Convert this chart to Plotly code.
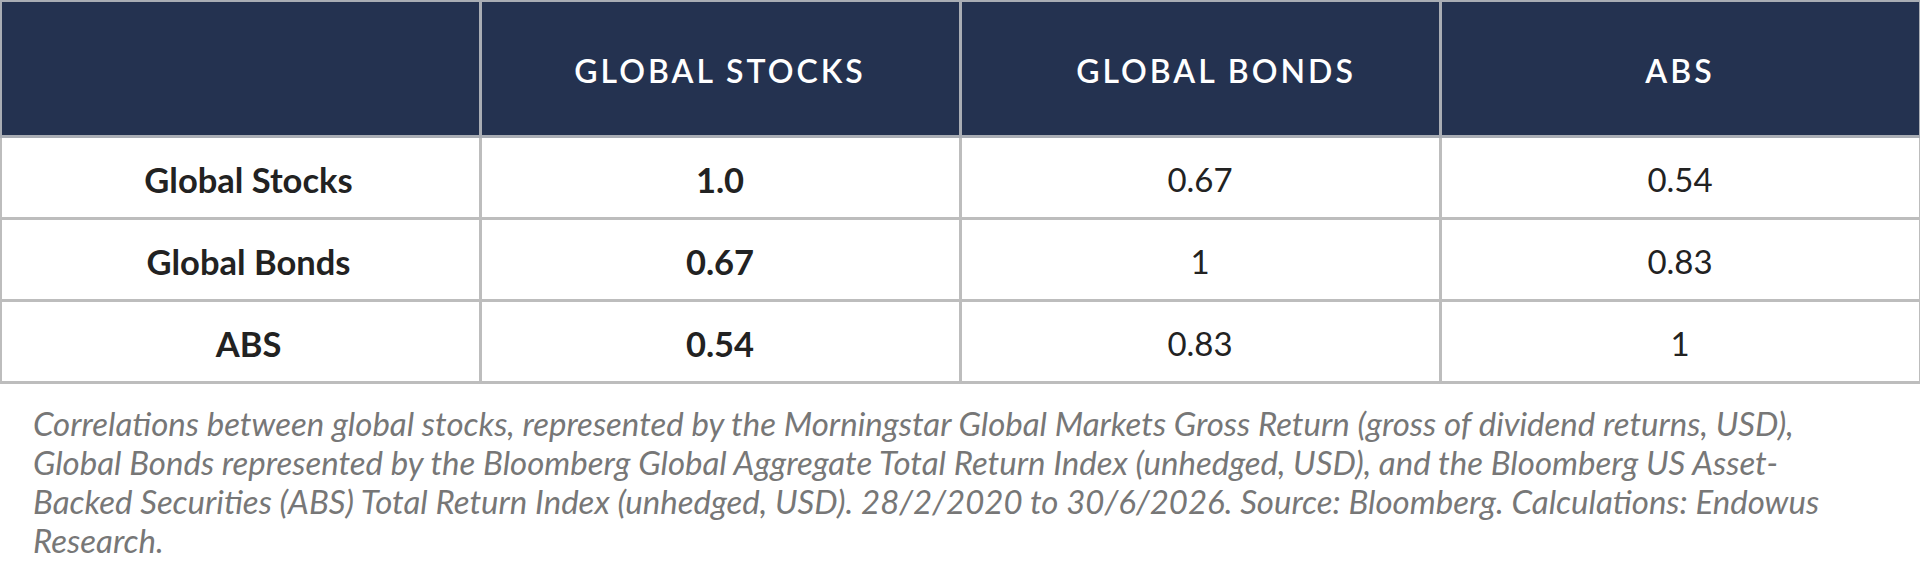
import plotly.graph_objects as go

columns = ["", "GLOBAL STOCKS", "GLOBAL BONDS", "ABS"]
row_labels = ["Global Stocks", "Global Bonds", "ABS"]
global_stocks = ["1.0", "0.67", "0.54"]
global_bonds = ["0.67", "1", "0.83"]
abs_col = ["0.54", "0.83", "1"]

caption_lines = [
    "Correlations between global stocks, represented by the Morningstar Global Markets Gross Return (gross of dividend returns, USD),",
    "Global Bonds represented by the Bloomberg Global Aggregate Total Return Index (unhedged, USD), and the Bloomberg US Asset-",
    "Backed Securities (ABS) Total Return Index (unhedged, USD). 28/2/2020 to 30/6/2026. Source: Bloomberg. Calculations: Endowus",
    "Research.",
]

W, H = 1920, 563
HEADER_H, ROW_H = 136, 82
navy = "#243250"
grid = "#bdbdbd"
clear = "rgba(0,0,0,0)"
blank = [""] * len(columns)
cell_values = [row_labels, global_stocks, global_bonds, abs_col]

fig = go.Figure()

# grid + fills only
fig.add_trace(go.Table(
    header=dict(values=blank, fill_color=navy, line=dict(color="#a9adb4", width=3), height=HEADER_H),
    cells=dict(values=[[""] * len(row_labels)] * 4, fill_color="white",
               line=dict(color=grid, width=3), height=ROW_H),
    domain=dict(x=[0, 1], y=[0, 1]),
))

# header text, pushed down to sit mid-header (table text is top aligned)
# widths nudge "GLOBAL BONDS" right like the original
fig.add_trace(go.Table(
    columnwidth=[448, 544, 448, 480],
    header=dict(values=columns, fill_color=clear, line=dict(color=clear, width=0), align="center",
                font=dict(family="Lato", size=32, color="white", weight=600), height=HEADER_H),
    cells=dict(values=[[]] * 4, fill_color=clear, line=dict(color=clear, width=0)),
    domain=dict(x=[0, 1], y=[0, 1 - 51 / H]),
))

# cell text (label column sits a little right of centre)
fig.add_trace(go.Table(
    columnwidth=[463, 480, 480, 480],
    header=dict(values=blank, fill_color=clear, line=dict(color=clear, width=0), height=HEADER_H),
    cells=dict(values=cell_values, fill_color=clear, line=dict(color=clear, width=0), align="center",
               font=dict(family="Lato", size=[34.5, 34.5, 33, 33], color="#222222",
                         weight=[700, 700, 400, 400]),
               height=ROW_H),
    domain=dict(x=[17 / W, 1], y=[0, 1 - 23 / H]),
))

for i, line in enumerate(caption_lines):
    fig.add_annotation(
        text=line, xref="paper", yref="paper", x=31 / W, y=1 - (445 + 39 * i) / H,
        xanchor="left", yanchor="bottom", align="left", showarrow=False,
        font=dict(family="Lato", size=33, color="#777777", style="italic"),
    )

fig.update_layout(
    width=W, height=H,
    margin=dict(l=0, r=0, t=0, b=0),
    paper_bgcolor="white",
)

post = """
document.body.style.margin = '0';
var gd = document.getElementById('{plot_id}');
gd.querySelectorAll('text').forEach(function (t) {
  if (t.style.fill === 'rgb(255, 255, 255)') { t.style.letterSpacing = '3px'; }
});
"""
fig.write_html("out.html", config={"displayModeBar": False}, post_script=post)
